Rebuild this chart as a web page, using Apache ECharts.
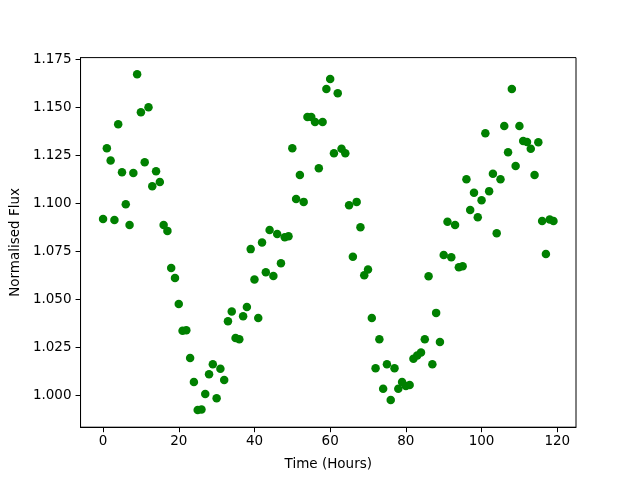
<!DOCTYPE html>
<html>
<head>
<meta charset="utf-8">
<script src="https://cdn.jsdelivr.net/npm/echarts@6/dist/echarts.min.js"></script>
<style>
  html, body { margin: 0; padding: 0; background: #fff; }
  #main { width: 640px; height: 480px; }
</style>
</head>
<body>
<div id="main"></div>
<script>
// hours 0..119, one reading each
var hours = [
  0, 1, 2, 3, 4, 5, 6, 7, 8, 9, 10, 11, 12, 13, 14, 15, 16, 17, 18, 19,
  20, 21, 22, 23, 24, 25, 26, 27, 28, 29, 30, 31, 32, 33, 34, 35, 36, 37, 38, 39,
  40, 41, 42, 43, 44, 45, 46, 47, 48, 49, 50, 51, 52, 53, 54, 55, 56, 57, 58, 59,
  60, 61, 62, 63, 64, 65, 66, 67, 68, 69, 70, 71, 72, 73, 74, 75, 76, 77, 78, 79,
  80, 81, 82, 83, 84, 85, 86, 87, 88, 89, 90, 91, 92, 93, 94, 95, 96, 97, 98, 99,
  100, 101, 102, 103, 104, 105, 106, 107, 108, 109, 110, 111, 112, 113, 114, 115, 116, 117, 118, 119
];
var flux = [
  1.0917, 1.1285, 1.1221, 1.0912, 1.1410, 1.1160, 1.0994, 1.0885, 1.1157, 1.1670,
  1.1473, 1.1212, 1.1499, 1.1088, 1.1166, 1.1110, 1.0886, 1.0855, 1.0662, 1.0610,
  1.0474, 1.0335, 1.0338, 1.0193, 1.0068, 0.9922, 0.9925, 1.0005, 1.0109, 1.0161,
  0.9984, 1.0137, 1.0078, 1.0385, 1.0435, 1.0297, 1.0291, 1.0411, 1.0458, 1.0760,
  1.0602, 1.0401, 1.0794, 1.0640, 1.0859, 1.0620, 1.0839, 1.0687, 1.0822, 1.0827,
  1.1285, 1.1021, 1.1146, 1.1006, 1.1448, 1.1448, 1.1422, 1.1181, 1.1422, 1.1594,
  1.1646, 1.1259, 1.1572, 1.1283, 1.1259, 1.0989, 1.0720, 1.1006, 1.0874, 1.0624,
  1.0654, 1.0401, 1.0140, 1.0291, 1.0033, 1.0161, 0.9974, 1.0140, 1.0033, 1.0068,
  1.0047, 1.0052, 1.0189, 1.0206, 1.0222, 1.0291, 1.0619, 1.0161, 1.0428, 1.0276,
  1.0729, 1.0902, 1.0718, 1.0885, 1.0666, 1.0671, 1.1124, 1.0964, 1.1053, 1.0926,
  1.1015, 1.1363, 1.1062, 1.1152, 1.0843, 1.1124, 1.1401, 1.1265, 1.1594, 1.1193,
  1.1401, 1.1323, 1.1318, 1.1283, 1.1146, 1.1317, 1.0907, 1.0734, 1.0914, 1.0907
];
var xTicks = [0, 20, 40, 60, 80, 100, 120];
var yTicks = [1.000, 1.025, 1.050, 1.075, 1.100, 1.125, 1.150, 1.175];

var points = [];
for (var i = 0; i < hours.length; i++) {
  points.push([hours[i], flux[i]]);
}

var font = 'DejaVu Sans';
var myChart = echarts.init(document.getElementById('main'), null, { renderer: 'canvas' });
myChart.setOption({
  animation: false,
  backgroundColor: '#fff',
  grid: {
    left: 80, right: 64, top: 57.6, bottom: 52.8,
    show: true, borderColor: '#000', borderWidth: 1, backgroundColor: 'transparent'
  },
  xAxis: {
    type: 'value',
    min: -5.95, max: 124.95,
    name: 'Time (Hours)',
    nameLocation: 'middle',
    nameGap: 30,
    nameTextStyle: { fontFamily: font, fontSize: 13.5, color: '#000' },
    axisLine: { show: true, onZero: false, lineStyle: { color: '#000', width: 1 } },
    axisTick: { show: true, length: 5, lineStyle: { color: '#000' }, customValues: xTicks },
    axisLabel: { fontFamily: font, fontSize: 13.5, color: '#000', margin: 7, customValues: xTicks },
    splitLine: { show: false }
  },
  yAxis: {
    type: 'value',
    min: 0.98327, max: 1.17573,
    name: 'Normalised Flux',
    nameLocation: 'middle',
    nameGap: 56,
    nameTextStyle: { fontFamily: font, fontSize: 13.5, color: '#000' },
    axisLine: { show: true, onZero: false, lineStyle: { color: '#000', width: 1 } },
    axisTick: { show: true, length: 5, lineStyle: { color: '#000' }, customValues: yTicks },
    axisLabel: {
      fontFamily: font, fontSize: 13.5, color: '#000', margin: 9, customValues: yTicks,
      formatter: function (v) { return v.toFixed(3); }
    },
    splitLine: { show: false }
  },
  series: [{
    type: 'scatter',
    data: points,
    symbol: 'circle',
    symbolSize: 8.5,
    itemStyle: { color: '#008000', opacity: 1 }
  }]
});
</script>
</body>
</html>
